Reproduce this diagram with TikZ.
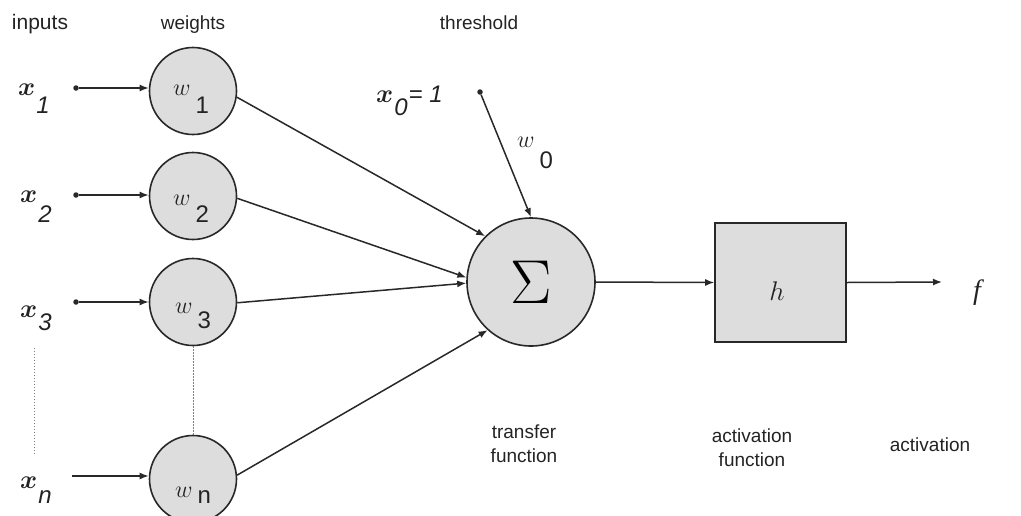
\RequirePackage{fix-cm}
\documentclass[tikz,border=0pt]{standalone}
\usepackage{fontspec}
\setmainfont{Liberation Serif}
\setsansfont{Liberation Sans}
\usetikzlibrary{arrows.meta}
\definecolor{fillg}{RGB}{221,221,221}
\definecolor{lineg}{RGB}{40,40,40}
\definecolor{textg}{RGB}{35,35,35}
\newcommand{\xl}[2]{{\fontsize{26}{26}\selectfont\boldmath$x$}\kern1pt\raisebox{-#2pt}{\sffamily\itshape\fontsize{24}{24}\selectfont #1}}
\newcommand{\wl}[2]{{\fontsize{24}{24}\selectfont$w$}\kern5pt\raisebox{-#2pt}{\sffamily\fontsize{24}{24}\selectfont #1}}
\begin{document}
\begin{tikzpicture}[x=1pt,y=-1pt,
  lbl/.style={font=\sffamily\fontsize{19}{24}\selectfont, text=textg, align=center, inner sep=0pt},
  wcirc/.style={circle, draw=lineg, fill=fillg, line width=1.6pt, minimum size=87pt, inner sep=0pt},
  arr/.style={-{Latex[length=9pt,width=7pt]}, line width=1.5pt, draw=lineg},
  dotl/.style={line width=1pt, draw=gray, dash pattern=on 1.2pt off 1.8pt},
  dotpt/.style={circle, fill=lineg, inner sep=0pt, minimum size=5.5pt},
  mlab/.style={inner sep=0pt, anchor=base west, text=textg},
]
\useasboundingbox (0,0) rectangle (1021,515);

% headings
\node[lbl, anchor=base] (tin) at (40,29) {\fontsize{21}{24}\selectfont inputs};
\node[lbl, anchor=base] (tw) at (193,29) {weights};
\node[lbl, anchor=base] (tth) at (479,29) {threshold};

% weight circles
\node[wcirc] (w1) at (193,91) {};
\node[wcirc] (w2) at (193,196) {};
\node[wcirc] (w3) at (193,302) {};
\node[wcirc] (wn) at (193,479) {};
\node[mlab] (lw1) at (173,95) {\wl{1}{18}};
\node[mlab] (lw2) at (173,205) {\wl{2}{17}};
\node[mlab] (lw3) at (175,313) {\wl{3}{15}};
\node[mlab] (lwn) at (175,497) {\wl{n}{6}};

% inputs
\node[mlab] (lx1) at (18,95) {\xl{1}{18}};
\node[mlab] (lx2) at (20,202) {\xl{2}{20}};
\node[mlab] (lx3) at (20,317) {\xl{3}{13}};
\node[mlab] (lxn) at (20,488) {\xl{n}{15}};

\node[dotpt] (d1) at (76,88) {};
\node[dotpt] (d2) at (76,195) {};
\node[dotpt] (d3) at (76,302) {};
\coordinate (dn) at (72,476);

\draw[arr] (d1) -- (d1 -| w1.west);
\draw[arr] (d2) -- (d2 -| w2.west);
\draw[arr] (d3) -- (d3 -| w3.west);
\draw[arr] (dn) -- (dn -| wn.west);

% dotted continuation
\coordinate (va) at (34,348);
\coordinate (vb) at (34,455);
\draw[dotl] (va) -- (vb);
\draw[dotl] (w3.south) -- (wn.north);

% summation
\node[circle, draw=lineg, fill=fillg, line width=1.6pt, minimum size=128pt, inner sep=0pt] (sig) at (531,282) {\fontsize{62}{62}\selectfont$\Sigma$};

% threshold
\node[dotpt] (d0) at (480,92) {};
\node[mlab] (lx0) at (376,102) {\xl{0}{13}\kern1pt{\sffamily\itshape\fontsize{24}{24}\selectfont= 1}};
\node[mlab] (lw0) at (517,147) {\wl{0}{21}};
\draw[arr] (d0) -- (sig.north);

% weights to sum
\draw[arr] (w1.-8) -- (sig.135);
\draw[arr] (w2.-3) -- (sig.176);
\draw[arr] (w3.-1) -- (sig.181);
\draw[arr] (wn.5) -- (sig.228);

% activation box
\node[draw=lineg, fill=fillg, line width=1.6pt, minimum width=131pt, minimum height=119pt, inner sep=0pt] (hb) at (780.5,282.5) {};
\node[inner sep=0pt, text=textg] (lh) at (777,291) {\fontsize{27}{27}\selectfont$h$};
\draw[arr] (sig.east) -- (hb.west);

\coordinate (fo) at (942,282);
\draw[arr] (hb.east) -- (fo);
\node[inner sep=0pt, text=textg] (lf) at (977,293) {\fontsize{28}{28}\selectfont\itshape f};

% bottom labels
\node[lbl] (ttf) at (524,444) {transfer\\function};
\node[lbl] (taf) at (752,448) {activation\\function};
\node[lbl, anchor=base] (tact) at (930,451) {activation};
\end{tikzpicture}
\end{document}
